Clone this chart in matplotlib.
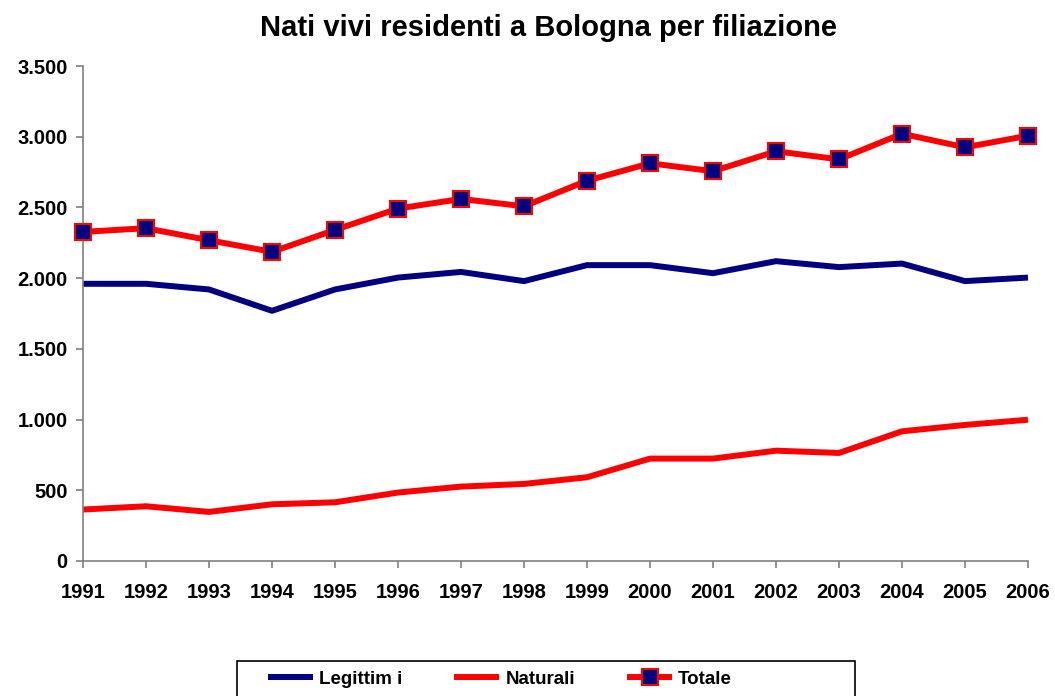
import matplotlib
matplotlib.use("Agg")
import matplotlib.pyplot as plt
from matplotlib.ticker import FuncFormatter
from matplotlib.patches import Rectangle

anni = list(range(1991, 2007))
legittimi = [1960, 1960, 1920, 1769, 1920, 2004, 2044, 1979, 2092, 2092, 2035, 2120, 2078, 2103, 1979, 2004]
naturali = [364, 387, 347, 401, 415, 484, 526, 545, 592, 724, 724, 780, 764, 917, 962, 999]
totale = [2327, 2353, 2268, 2186, 2341, 2492, 2560, 2508, 2689, 2812, 2756, 2897, 2840, 3021, 2925, 3007]
yticks = [0, 500, 1000, 1500, 2000, 2500, 3000, 3500]

plt.rcParams['font.family'] = ['Liberation Sans', 'DejaVu Sans']
plt.rcParams['font.weight'] = 'bold'

W, H = 1055, 696
fig = plt.figure(figsize=(W/100, H/100), dpi=100)
ax = fig.add_axes([83/W, 1 - 561/H, (1028-83)/W, (561-66)/H])

ax.plot(anni, legittimi, color='#000080', lw=4.3, label='Legittim i', clip_on=False,
        solid_capstyle='butt')
ax.plot(anni, naturali, color='#ff0000', lw=4.3, label='Naturali', clip_on=False,
        solid_capstyle='butt')
ax.plot(anni, totale, color='#ff0000', lw=4.3, marker='s', markersize=11,
        markerfacecolor='#000080', markeredgecolor='#ff0000', markeredgewidth=1.5,
        label='Totale', clip_on=False, zorder=3, solid_capstyle='butt')

ax.set_xlim(1991, 2006)
ax.set_ylim(0, 3500)
ax.set_xticks(anni)
ax.set_yticks(yticks)
ax.yaxis.set_major_formatter(FuncFormatter(lambda v, p: f"{int(v):,}".replace(",", ".")))
for s in ['top', 'right']:
    ax.spines[s].set_visible(False)
for s in ['left', 'bottom']:
    ax.spines[s].set_color('#808080')
    ax.spines[s].set_linewidth(1.2)
ax.tick_params(axis='both', direction='out', length=5, width=1.2, color='#808080',
               labelsize=14.5)
ax.tick_params(axis='x', pad=11)
ax.tick_params(axis='y', pad=6)
for lab in ax.get_xticklabels() + ax.get_yticklabels():
    lab.set_fontweight('bold')

fig.text(549/W, 1 - 28/H, 'Nati vivi residenti a Bologna per filiazione',
         ha='center', va='center', fontsize=21, fontweight='bold')

# legend frame drawn like the reference box
fig.patches.append(Rectangle((237/W, 1 - 700/H), (855-237)/W, (700-661)/H,
                             transform=fig.transFigure, fill=False,
                             edgecolor='black', linewidth=1.2))
fs = 13.5
em = fs * 100 / 72
leg = fig.legend(loc='center left', bbox_to_anchor=(268/W, 1 - 679/H), ncol=3,
                 frameon=False, fontsize=fs, borderpad=0, borderaxespad=0,
                 handlelength=45/em, handletextpad=6/em, columnspacing=52/em)
for t in leg.get_texts():
    t.set_fontweight('bold')

fig.savefig('out.png', dpi=100)
